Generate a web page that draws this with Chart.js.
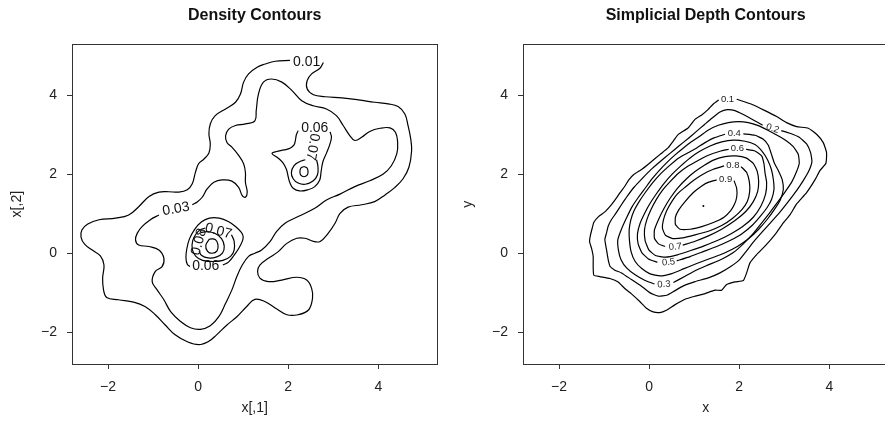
<!DOCTYPE html>
<html>
<head>
<meta charset="utf-8">
<script src="https://cdn.jsdelivr.net/npm/chart.js@4.4.1/dist/chart.umd.min.js"></script>
<style>
  html, body { margin: 0; padding: 0; background: #fff; overflow: hidden; width: 885px; height: 425px; }
  #wrap { position: relative; width: 885px; height: 425px; overflow: hidden; }
  canvas { position: absolute; top: 0; }
  #densityCanvas { left: 0; }
  #depthCanvas { left: 451px; }
</style>
</head>
<body>
<div id="wrap">
  <canvas id="densityCanvas" width="442" height="425"></canvas>
  <canvas id="depthCanvas" width="442" height="425"></canvas>
</div>
<script>
// ---- shared axis ticks ----
const tickValues = [-2, 0, 2, 4];
const tickText = ['\u22122', '0', '2', '4'];

// ---- kernel density contours (x[,1], x[,2]) ----
const density001 = [[2.78,4.84],[2.71,4.70],[2.52,4.55],[2.42,4.38],[2.42,4.17],[2.56,4.02],[2.82,3.97],[3.19,3.94],[3.56,3.89],[3.92,3.83],[4.22,3.79],[4.44,3.72],[4.59,3.53],[4.66,3.24],[4.72,2.90],[4.74,2.60],[4.68,2.18],[4.55,1.89],[4.37,1.67],[4.15,1.48],[3.92,1.31],[3.63,1.23],[3.33,1.17],[3.15,1.01],[3.04,0.76],[2.89,0.51],[2.71,0.30],[2.56,0.30],[2.37,0.38],[2.19,0.38],[1.97,0.25],[1.78,0.04],[1.56,-0.13],[1.37,-0.30],[1.32,-0.46],[1.37,-0.63],[1.56,-0.72],[1.86,-0.68],[2.19,-0.61],[2.41,-0.68],[2.52,-0.89],[2.54,-1.14],[2.45,-1.44],[2.22,-1.56],[1.97,-1.56],[1.71,-1.39],[1.49,-1.23],[1.26,-1.17],[1.08,-1.35],[0.86,-1.61],[0.64,-1.82],[0.41,-2.07],[0.23,-2.24],[0.01,-2.32],[-0.25,-2.24],[-0.51,-2.07],[-0.73,-1.82],[-0.95,-1.56],[-1.18,-1.35],[-1.43,-1.24],[-1.77,-1.18],[-2.03,-1.12],[-2.10,-0.93],[-2.12,-0.63],[-2.09,-0.30],[-2.17,-0.07],[-2.35,0.08],[-2.52,0.23],[-2.60,0.41],[-2.58,0.59],[-2.45,0.74],[-2.20,0.85],[-1.83,0.89],[-1.54,0.97],[-1.32,1.18],[-1.09,1.44],[-0.87,1.55],[-0.65,1.56],[-0.43,1.55],[-0.24,1.61],[-0.13,1.76],[-0.06,2.05],[0.01,2.27],[0.13,2.39],[0.24,2.54],[0.27,2.77],[0.24,3.03],[0.27,3.28],[0.38,3.49],[0.61,3.66],[0.83,3.83],[0.94,4.04],[1.01,4.34],[1.12,4.55],[1.31,4.72],[1.49,4.80],[1.71,4.87],[2.04,4.89]];
const density003 = [[-0.13,1.23],[-0.02,1.30],[0.09,1.42],[0.20,1.63],[0.35,1.80],[0.53,1.86],[0.75,1.83],[0.90,1.67],[0.98,1.46],[1.05,1.42],[1.09,1.55],[1.05,1.80],[1.05,2.05],[1.01,2.27],[0.90,2.48],[0.75,2.69],[0.64,2.81],[0.61,2.98],[0.68,3.15],[0.83,3.24],[1.05,3.28],[1.26,3.36],[1.29,3.62],[1.34,4.04],[1.45,4.34],[1.63,4.42],[1.86,4.34],[2.08,4.13],[2.30,3.87],[2.56,3.74],[2.85,3.66],[3.07,3.49],[3.22,3.24],[3.37,2.98],[3.48,2.86],[3.63,2.94],[3.81,3.09],[4.04,3.17],[4.26,3.18],[4.38,3.07],[4.43,2.81],[4.41,2.52],[4.29,2.22],[4.11,2.01],[3.81,1.84],[3.48,1.69],[3.15,1.50],[2.85,1.35],[2.59,1.14],[2.22,0.93],[1.93,0.76],[1.74,0.55],[1.60,0.30],[1.41,0.08],[1.26,0.0],[1.12,-0.08],[0.98,-0.30],[0.86,-0.59],[0.75,-0.93],[0.61,-1.27],[0.46,-1.61],[0.27,-1.84],[0.05,-1.93],[-0.17,-1.89],[-0.39,-1.73],[-0.61,-1.48],[-0.76,-1.18],[-0.91,-0.93],[-1.02,-0.72],[-0.95,-0.46],[-0.80,-0.34],[-0.76,-0.13],[-0.87,0.08],[-1.09,0.17],[-1.32,0.21],[-1.39,0.34],[-1.35,0.51],[-1.24,0.68],[-1.06,0.85],[-0.87,0.97]];
const upper006 = [[2.22,3.11],[2.18,3.0],[2.16,2.87],[2.13,2.75],[2.05,2.67],[1.91,2.62],[1.74,2.58],[1.64,2.53],[1.76,2.43],[1.88,2.30],[1.96,2.13],[2.0,1.94],[2.04,1.78],[2.11,1.65],[2.25,1.58],[2.44,1.61],[2.59,1.69],[2.70,1.86],[2.73,2.07],[2.77,2.32],[2.85,2.54],[2.92,2.75],[2.96,2.94],[2.93,3.08]];
const upper007 = [[2.63,2.37],[2.66,2.20],[2.65,1.99],[2.55,1.83],[2.38,1.75],[2.22,1.78],[2.11,1.89],[2.07,2.05],[2.13,2.22],[2.25,2.32],[2.38,2.37]];
const upper008 = [[2.35,2.20],[2.42,2.16],[2.44,2.07],[2.42,1.98],[2.35,1.94],[2.28,1.98],[2.26,2.07],[2.28,2.16],[2.35,2.20]];
const lower006 = [[0.55,-0.30],[0.68,-0.22],[0.80,-0.05],[0.90,0.12],[0.98,0.30],[1.0,0.42],[0.96,0.53],[0.83,0.68],[0.68,0.80],[0.47,0.89],[0.25,0.89],[0.07,0.79],[-0.08,0.60],[-0.19,0.37],[-0.25,0.12],[-0.27,-0.12],[-0.24,-0.28],[-0.18,-0.34]];
const lower007 = [[0.74,0.47],[0.80,0.30],[0.80,0.08],[0.72,-0.08],[0.55,-0.18],[0.32,-0.21],[0.10,-0.18],[-0.05,-0.08],[-0.13,0.10],[-0.12,0.32],[-0.04,0.50],[0.06,0.60],[0.16,0.64]];
const lower008 = [[0.06,0.52],[0.20,0.55],[0.38,0.50],[0.52,0.37],[0.58,0.18],[0.54,0.0],[0.40,-0.10],[0.22,-0.12],[0.08,-0.06],[0.02,0.05]];
const lower009 = [[0.25,0.36],[0.38,0.35],[0.44,0.22],[0.42,0.06],[0.31,0.0],[0.21,0.05],[0.17,0.2],[0.25,0.36]];

const densityLabelText = ['0.01', '0.03', '0.06', '0.07', '0.06', '0.07', '0.08'];
const densityLabelX = [2.41, -0.49, 2.59, 2.54, 0.17, 0.45, 0.02];
const densityLabelY = [4.86, 1.12, 3.17, 2.70, -0.34, 0.56, 0.29];

// ---- simplicial depth contours (x, y) ----
const depth01 = [[1.944,3.905],[2.276,3.779],[2.572,3.618],[2.831,3.466],[3.052,3.314],[3.274,3.212],[3.533,3.17],[3.718,3.018],[3.866,2.806],[3.939,2.553],[3.925,2.282],[3.792,2.096],[3.681,1.86],[3.496,1.538],[3.274,1.251],[3.126,0.972],[2.979,0.769],[2.794,0.473],[2.572,0.178],[2.387,-0.034],[2.239,-0.245],[2.165,-0.499],[2.092,-0.693],[1.907,-0.727],[1.722,-0.795],[1.611,-0.938],[1.463,-0.938],[1.242,-1.023],[1.02,-1.09],[0.798,-1.167],[0.569,-1.31],[0.384,-1.445],[0.237,-1.505],[0.089,-1.488],[-0.059,-1.395],[-0.207,-1.226],[-0.392,-1.031],[-0.54,-0.896],[-0.687,-0.727],[-0.872,-0.642],[-1.094,-0.592],[-1.227,-0.558],[-1.242,-0.338],[-1.242,-0.085],[-1.279,0.127],[-1.323,0.296],[-1.301,0.465],[-1.264,0.634],[-1.227,0.786],[-1.123,0.93],[-0.983,1.048],[-0.835,1.234],[-0.724,1.403],[-0.65,1.53],[-0.54,1.699],[-0.451,1.86],[-0.34,1.995],[-0.17,2.122],[0.015,2.291],[0.237,2.502],[0.421,2.671],[0.532,2.84],[0.643,3.009],[0.865,3.178],[1.013,3.39],[1.168,3.508],[1.301,3.635],[1.426,3.787],[1.545,3.888]];
const depth02 = [[2.934,3.111],[3.126,3.043],[3.333,2.942],[3.496,2.773],[3.585,2.553],[3.614,2.325],[3.54,2.071],[3.422,1.843],[3.274,1.589],[3.089,1.31],[2.89,1.023],[2.698,0.778],[2.506,0.533],[2.313,0.279],[2.151,0.042],[2.003,-0.169],[1.811,-0.338],[1.574,-0.499],[1.316,-0.626],[1.02,-0.719],[0.761,-0.828],[0.54,-0.972],[0.392,-1.065],[0.207,-1.09],[0.022,-1.006],[-0.17,-0.837],[-0.392,-0.668],[-0.613,-0.499],[-0.761,-0.431],[-0.865,-0.338],[-0.909,-0.161],[-0.946,0.093],[-0.983,0.347],[-0.946,0.516],[-0.909,0.685],[-0.835,0.854],[-0.74,1.01],[-0.615,1.23],[-0.48,1.455],[-0.33,1.68],[-0.15,1.90],[0.04,2.12],[0.24,2.32],[0.45,2.52],[0.66,2.72],[0.86,2.905],[1.045,3.085],[1.225,3.26],[1.40,3.43],[1.574,3.584],[1.737,3.643],[1.907,3.618],[2.092,3.517],[2.313,3.381],[2.52,3.246]];
const depth03 = [[0.54,-0.744],[0.798,-0.583],[1.042,-0.431],[1.316,-0.296],[1.611,-0.152],[1.87,0.017],[2.092,0.237],[2.299,0.482],[2.483,0.744],[2.668,1.014],[2.846,1.285],[3.023,1.564],[3.171,1.817],[3.274,2.071],[3.333,2.282],[3.311,2.511],[3.2,2.705],[3.03,2.866],[2.831,3.001],[2.624,3.128],[2.424,3.238],[2.203,3.314],[1.981,3.339],[1.759,3.314],[1.537,3.246],[1.316,3.128],[1.131,2.976],[0.946,2.832],[0.761,2.671],[0.576,2.494],[0.392,2.299],[0.222,2.096],[0.059,1.877],[-0.089,1.648],[-0.237,1.42],[-0.377,1.183],[-0.495,0.913],[-0.606,0.634],[-0.695,0.338],[-0.68,0.068],[-0.621,-0.169],[-0.495,-0.38],[-0.31,-0.549],[-0.089,-0.693],[0.118,-0.778]];
const depth04 = [[2.092,3.026],[2.35,2.992],[2.535,2.891],[2.646,2.739],[2.713,2.519],[2.779,2.291],[2.875,2.08],[2.956,1.86],[2.979,1.615],[2.912,1.352],[2.794,1.133],[2.624,0.862],[2.432,0.609],[2.211,0.372],[1.959,0.169],[1.663,0.0],[1.353,-0.135],[1.057,-0.262],[0.761,-0.397],[0.503,-0.516],[0.244,-0.575],[0.022,-0.524],[-0.163,-0.389],[-0.31,-0.211],[-0.399,0.034],[-0.436,0.321],[-0.443,0.592],[-0.406,0.845],[-0.333,1.082],[-0.222,1.31],[-0.081,1.547],[0.081,1.792],[0.259,2.02],[0.451,2.223],[0.658,2.418],[0.872,2.553],[1.057,2.671],[1.242,2.806],[1.441,2.925],[1.685,3.018]];
const depth05 = [[0.613,-0.194],[0.909,-0.085],[1.205,0.042],[1.5,0.169],[1.796,0.321],[2.055,0.49],[2.291,0.71],[2.476,0.947],[2.624,1.167],[2.72,1.369],[2.772,1.623],[2.757,1.877],[2.713,2.13],[2.631,2.367],[2.513,2.578],[2.35,2.756],[2.129,2.84],[1.87,2.868],[1.611,2.823],[1.353,2.722],[1.116,2.578],[0.909,2.418],[0.71,2.223],[0.517,2.012],[0.333,1.775],[0.17,1.522],[0.022,1.268],[-0.096,1.023],[-0.2,0.761],[-0.259,0.49],[-0.244,0.237],[-0.163,0.017],[-0.015,-0.144],[0.185,-0.228]];
const depth06 = [[2.151,2.637],[2.35,2.595],[2.498,2.468],[2.55,2.265],[2.572,2.046],[2.609,1.792],[2.587,1.505],[2.483,1.2],[2.313,0.913],[2.077,0.676],[1.811,0.49],[1.515,0.321],[1.22,0.186],[0.924,0.068],[0.628,-0.042],[0.362,-0.101],[0.14,-0.059],[-0.007,0.085],[-0.089,0.321],[-0.103,0.592],[-0.052,0.845],[0.037,1.099],[0.155,1.353],[0.303,1.606],[0.466,1.817],[0.65,2.029],[0.85,2.198],[1.057,2.333],[1.316,2.485],[1.574,2.587],[1.767,2.637]];
const depth07 = [[0.746,0.203],[1.02,0.304],[1.316,0.44],[1.611,0.609],[1.907,0.828],[2.151,1.065],[2.313,1.31],[2.409,1.564],[2.432,1.817],[2.402,2.071],[2.313,2.282],[2.151,2.418],[1.929,2.468],[1.685,2.451],[1.441,2.367],[1.227,2.232],[1.02,2.071],[0.82,1.877],[0.628,1.648],[0.466,1.395],[0.333,1.141],[0.222,0.888],[0.118,0.592],[0.118,0.38],[0.207,0.237],[0.355,0.169]];
const depth08 = [[2.04,2.198],[2.166,2.046],[2.225,1.817],[2.232,1.564],[2.18,1.31],[2.055,1.099],[1.855,0.888],[1.611,0.702],[1.316,0.558],[1.02,0.465],[0.746,0.389],[0.525,0.372],[0.362,0.456],[0.296,0.634],[0.318,0.845],[0.392,1.082],[0.503,1.31],[0.628,1.505],[0.798,1.674],[0.998,1.86],[1.205,2.012],[1.426,2.13],[1.663,2.215]];
const depth09 = [[1.885,1.843],[1.944,1.648],[1.944,1.42],[1.892,1.234],[1.811,1.082],[1.663,0.913],[1.426,0.778],[1.168,0.676],[0.909,0.609],[0.687,0.609],[0.584,0.727],[0.584,0.913],[0.658,1.099],[0.798,1.31],[0.983,1.539],[1.168,1.708],[1.338,1.809],[1.5,1.86]];
const depthMedian = [[1.205, 1.20]];

const depthLabelText = ['0.1', '0.2', '0.3', '0.4', '0.5', '0.6', '0.7', '0.8', '0.9'];
const depthLabelX = [1.74, 2.74, 0.33, 1.89, 0.43, 1.96, 0.58, 1.86, 1.70];
const depthLabelY = [3.90, 3.16, -0.79, 3.04, -0.23, 2.65, 0.16, 2.23, 1.88];

// ---- drawing setup ----
const FONT = '"Liberation Sans", Arial, Helvetica, sans-serif';
const INK = '#000';
const densityLabelAngles = [0, -10, 0, 100, 0, 15, -75];
const depthLabelAngles = [0, 18, -4, 0, -5, 0, -5, 0, 0];

const toPoints = arr => arr.map(p => ({ x: p[0], y: p[1] }));

function contourSet(arr, tension) {
  return {
    data: toPoints(arr),
    showLine: true,
    borderColor: INK,
    borderWidth: 1.2,
    borderJoinStyle: 'round',
    pointRadius: 0,
    fill: false,
    tension: tension
  };
}

// frame around the plotting region
const framePlugin = {
  id: 'plotFrame',
  afterDraw(chart) {
    const { ctx, chartArea: a } = chart;
    ctx.save();
    ctx.strokeStyle = '#333';
    ctx.lineWidth = 1;
    const l = Math.round(a.left) + 0.5, t = Math.round(a.top) + 0.5;
    const r = Math.round(a.right) + 0.5, b = Math.round(a.bottom) + 0.5;
    ctx.strokeRect(l, t, r - l, b - t);
    ctx.restore();
  }
};

// in-line contour level labels, placed through the chart scales
function levelLabels(texts, xs, ys, angles, size, color) {
  return {
    id: 'levelLabels',
    afterDatasetsDraw(chart) {
      const { ctx, scales } = chart;
      ctx.save();
      ctx.font = size + 'px ' + FONT;
      ctx.fillStyle = color;
      ctx.textAlign = 'center';
      ctx.textBaseline = 'middle';
      texts.forEach((t, i) => {
        ctx.save();
        ctx.translate(scales.x.getPixelForValue(xs[i]), scales.y.getPixelForValue(ys[i]));
        ctx.rotate(angles[i] * Math.PI / 180);
        ctx.fillText(t, 0, 0);
        ctx.restore();
      });
      ctx.restore();
    }
  };
}

function axisOptions(min, max, titleText, isX) {
  return {
    type: 'linear',
    min: min,
    max: max,
    afterBuildTicks: s => { s.ticks = tickValues.map(v => ({ value: v })); },
    afterFit: s => { if (isX) { s.height = 61; } else { s.width = 72; } },
    ticks: {
      callback: (v, i) => tickText[i],
      color: '#222',
      font: { family: FONT, size: 14 },
      padding: 10,
      maxRotation: 0,
      autoSkip: false
    },
    grid: { drawOnChartArea: false, drawTicks: true, tickLength: 5, color: '#333', lineWidth: 1 },
    border: { display: false },
    title: {
      display: true,
      text: titleText,
      color: '#222',
      font: { family: FONT, size: 14 },
      padding: isX ? { top: 0, bottom: 8.6 } : { top: 8.6, bottom: 0 }
    }
  };
}

function makePanel(canvasId, cfg) {
  return new Chart(document.getElementById(canvasId), {
    type: 'scatter',
    data: { datasets: cfg.datasets },
    options: {
      responsive: false,
      animation: false,
      devicePixelRatio: 1,
      layout: { padding: { left: 0, right: 4.7, top: 0, bottom: 0 } },
      plugins: {
        legend: { display: false },
        tooltip: { enabled: false },
        title: {
          display: true,
          text: cfg.title,
          fullSize: false,
          color: '#111',
          font: { family: FONT, size: 16, weight: 'bold', lineHeight: 1.2 },
          padding: { top: 6, bottom: 19.1 }
        }
      },
      scales: {
        x: axisOptions(-2.8, 5.31, cfg.xTitle, true),
        y: axisOptions(-2.81, 5.3, cfg.yTitle, false)
      }
    },
    plugins: [framePlugin, cfg.labels]
  });
}

makePanel('densityCanvas', {
  title: 'Density Contours',
  xTitle: 'x[,1]',
  yTitle: 'x[,2]',
  datasets: [density001, density003, upper006, upper007, upper008, lower006, lower007, lower008, lower009]
    .map(a => contourSet(a, 0.4)),
  labels: levelLabels(densityLabelText, densityLabelX, densityLabelY, densityLabelAngles, 14, '#111')
});

const depthSets = [depth01, depth02, depth03, depth04, depth05, depth06, depth07, depth08, depth09]
  .map(a => contourSet(a, 0.15));
depthSets.push({
  data: toPoints(depthMedian),
  showLine: false,
  pointRadius: 1,
  pointBorderWidth: 0,
  pointBackgroundColor: '#000'
});

makePanel('depthCanvas', {
  title: 'Simplicial Depth Contours',
  xTitle: 'x',
  yTitle: 'y',
  datasets: depthSets,
  labels: levelLabels(depthLabelText, depthLabelX, depthLabelY, depthLabelAngles, 9.5, '#222')
});
</script>
</body>
</html>
